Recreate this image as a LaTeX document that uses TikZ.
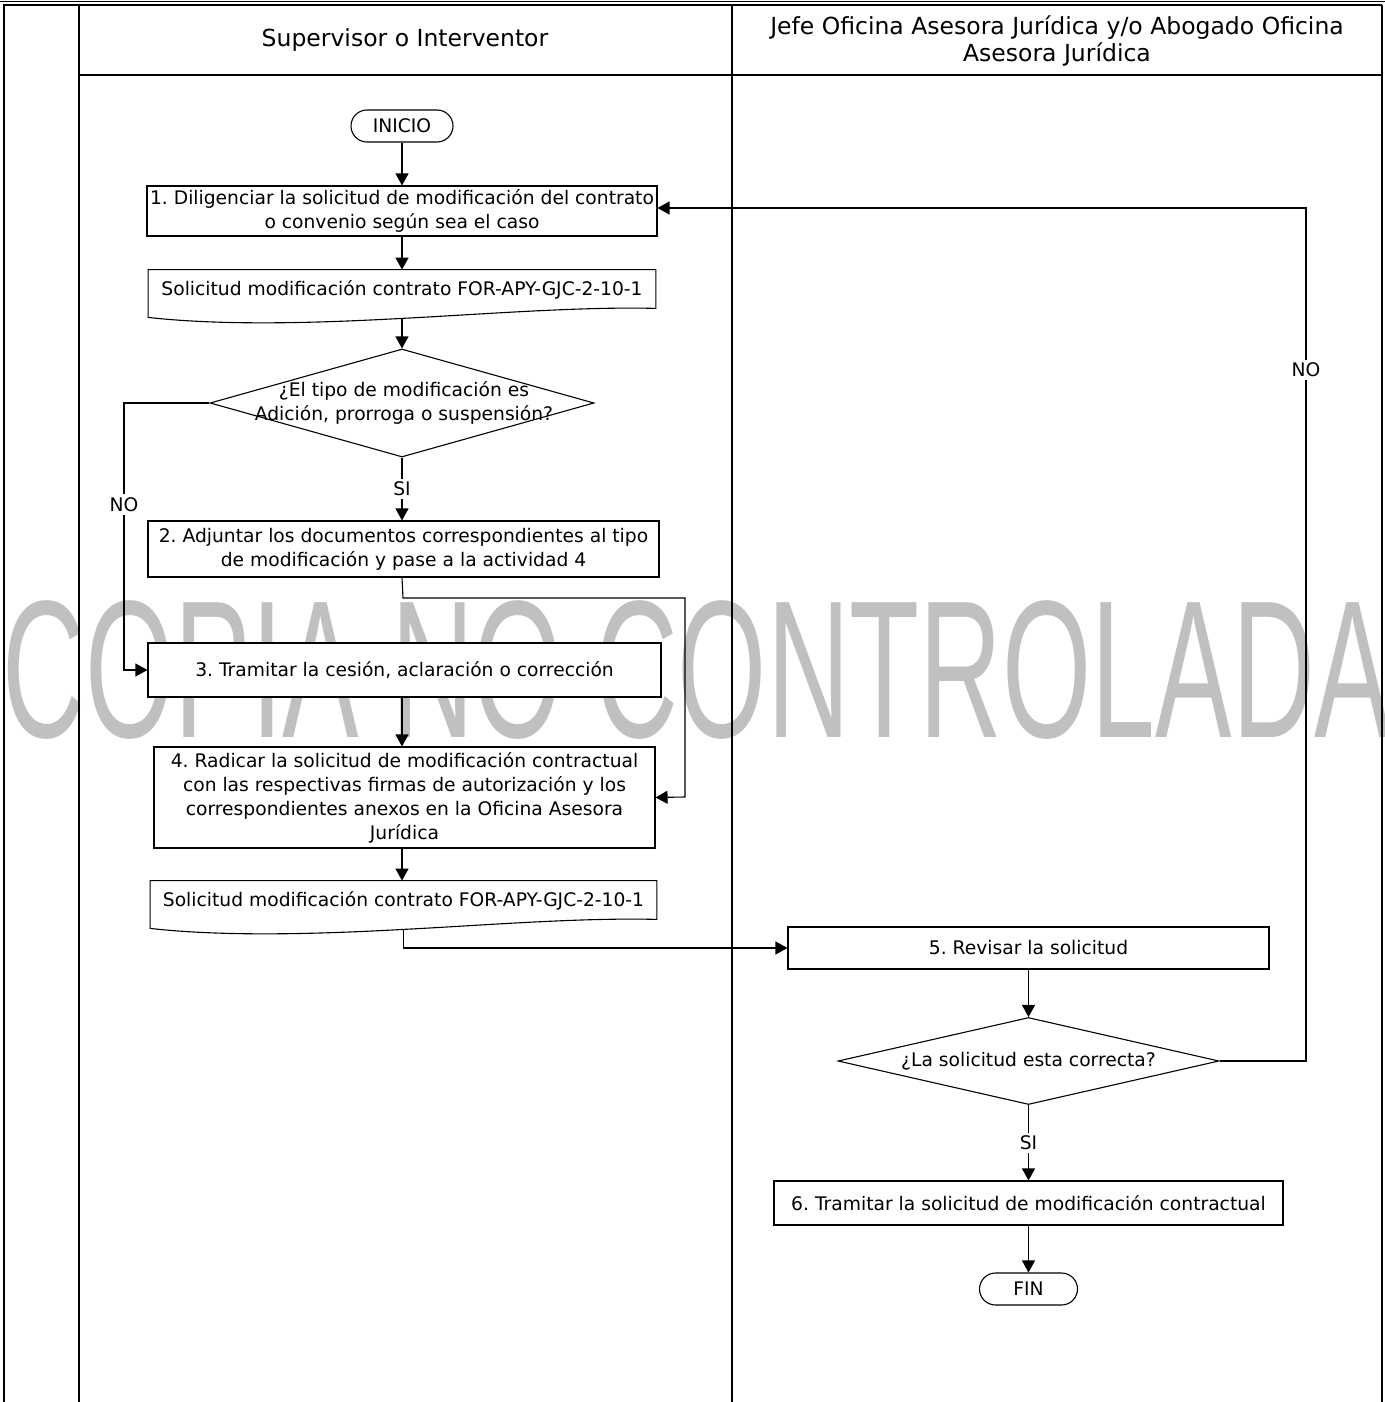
\documentclass[tikz,border=0pt]{standalone}
\usepackage{fontspec}
\setmainfont{DejaVu Sans}
\newfontfamily\wmfont{Liberation Sans}
\usetikzlibrary{arrows.meta,shapes.geometric,calc}
\definecolor{wmgray}{RGB}{192,192,192}
\frenchspacing
\begin{document}
\begin{tikzpicture}[x=0.5pt,y=-0.5pt,
  every node/.style={font=\fontsize{9.35}{12}\selectfont, align=center, inner sep=0pt},
  frame/.style={line width=0.6pt, draw=black},
  proc/.style={draw, fill=white, line width=0.55pt},
  term/.style={draw, fill=white, line width=0.55pt, rounded corners=8pt},
  decision/.style={draw, fill=white, line width=0.55pt, shape=diamond, inner sep=0pt},
  docnode/.style={inner sep=0pt},
  docline/.style={draw, fill=white, line width=0.55pt},
  conn/.style={line width=0.55pt, -{Triangle[length=6pt,width=6.5pt]}},
  lbl/.style={fill=white, inner sep=1.5pt},
  hdr/.style={font=\fontsize{11.75}{13.5}\selectfont}
]
\useasboundingbox (0,0) rectangle (1385,1402);
% watermark
\node[font=\wmfont\fontsize{98}{98}\selectfont, text=wmgray, anchor=base] (wm) at (697,737) {\scalebox{0.585}[1]{COPIA NO CONTROLADA}};

% frame
\draw[frame] (0,1.5) -- (1385,1.5);
\draw[frame] (3,5) -- (1382,5);
\draw[line width=1pt] (3.5,5) -- (3.5,1402);
\draw[line width=1pt] (1381.5,5) -- (1381.5,1402);
\draw[frame] (79,5) -- (79,1402);
\draw[frame] (732,5) -- (732,1402);
\draw[frame] (79,75) -- (1382,75);

% headers
\node[hdr] (h1) at (405,40) {Supervisor o Interventor};
\node[hdr] (h2) at (1057,41) {Jefe Oficina Asesora Jurídica y/o Abogado Oficina\\Asesora Jurídica};

% nodes
\node[term, minimum width=51pt, minimum height=16pt] (inicio) at (402,126) {INICIO};
\node[proc, minimum width=255pt, minimum height=25pt] (b1) at (402,211) {1. Diligenciar la solicitud de modificación del contrato\\o convenio según sea el caso};

\node[docnode, minimum width=253.5pt, minimum height=20pt] (d1) at (402,290) {};
\path[docline] (d1.north west) -- (d1.north east) -- ($(d1.south east)+(0,-2)$)
  .. controls ($(d1.south east)+(-75,-4)$) and ($(d1.south east)+(-175,4)$) .. ($(d1.south)+(0,8)$)
  .. controls ($(d1.south west)+(180,12)$) and ($(d1.south west)+(80,16)$) .. ($(d1.south west)+(0,7)$) -- cycle;
\node (d1t) at (d1.center) {Solicitud modificación contrato FOR-APY-GJC-2-10-1};
\coordinate (d1b) at ($(d1.south)+(0,8)$);

\node[decision, minimum width=192pt, minimum height=54pt] (q1) at (402,403) {};
\node (q1t) at (404,403) {¿El tipo de modificación es\\Adición, prorroga o suspensión?};

\node[proc, minimum width=255.5pt, minimum height=28pt] (b2) at (403.5,549) {2. Adjuntar los documentos correspondientes al tipo\\de modificación y pase a la actividad 4};
\node[proc, minimum width=256.5pt, minimum height=27pt] (b3) at (404.5,670) {3. Tramitar la cesión, aclaración o corrección};
\node[proc, minimum width=250.5pt, minimum height=50.5pt] (b4) at (404.5,797.5) {4. Radicar la solicitud de modificación contractual\\con las respectivas firmas de autorización y los\\correspondientes anexos en la Oficina Asesora\\Jurídica};

\node[docnode, minimum width=253pt, minimum height=20pt] (d2) at (403.5,901) {};
\path[docline] (d2.north west) -- (d2.north east) -- ($(d2.south east)+(0,-2)$)
  .. controls ($(d2.south east)+(-75,-4)$) and ($(d2.south east)+(-175,4)$) .. ($(d2.south)+(0,8)$)
  .. controls ($(d2.south west)+(180,12)$) and ($(d2.south west)+(80,16)$) .. ($(d2.south west)+(0,7)$) -- cycle;
\node (d2t) at (d2.center) {Solicitud modificación contrato FOR-APY-GJC-2-10-1};
\coordinate (d2b) at ($(d2.south)+(0,8)$);

\node[proc, minimum width=240.5pt, minimum height=21pt] (b5) at (1028.5,948) {5. Revisar la solicitud};
\node[decision, minimum width=190.5pt, minimum height=43.5pt] (q2) at (1028.5,1061) {};
\node (q2t) at (q2.center) {¿La solicitud esta correcta?};
\node[proc, minimum width=254.5pt, minimum height=22pt] (b6) at (1028.5,1203) {6. Tramitar la solicitud de modificación contractual};
\node[term, minimum width=49pt, minimum height=16pt] (fin) at (1028.5,1289) {FIN};

% connectors
\draw[conn] (inicio.south) -- (inicio.south |- b1.north);
\draw[conn] (b1.south) -- (b1.south |- d1.north);
\draw[conn] (d1b) -- (d1b |- q1.north);
\draw[conn] (q1.south) -- node[lbl, pos=0.5] (si1) {SI} (q1.south |- b2.north);
\draw[conn] (q1.west) -- (124,403) -- node[lbl, pos=0.38] (no1) {NO} (124,670) -- (b3.west);
\draw[conn] (b2.south -| q1.south) -- (403,598) -- (685,598) -- (685,797) -- (b4.east);
\draw[conn] (b3.south -| q1.south) -- (q1.south |- b4.north);
\draw[conn] (b4.south -| q1.south) -- (q1.south |- d2.north);
\draw[conn] (d2b) |- (b5.west);
\draw[conn] (b5.south) -- (b5.south |- q2.north);
\draw[conn] (q2.east) -- (1306,1061) -- node[lbl, pos=0.81] (no2) {NO} (1306,208) -- (b1.east |- 0,208);
\draw[conn] (q2.south) -- node[lbl, pos=0.5] (si2) {SI} (q2.south |- b6.north);
\draw[conn] (b6.south) -- (b6.south |- fin.north);
\end{tikzpicture}
\end{document}
